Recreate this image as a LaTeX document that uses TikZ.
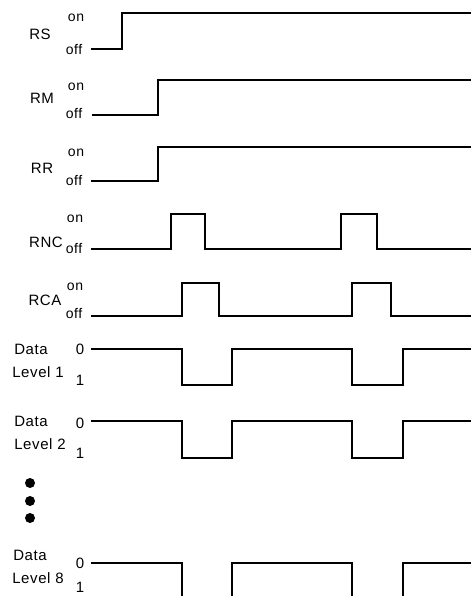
\documentclass[tikz,border=0pt]{standalone}
\usepackage{fontspec}
\setmainfont[LetterSpace=4]{Liberation Sans}

\begin{document}
\begin{tikzpicture}[x=1pt,y=1pt,yscale=-1,
  wave/.style={line width=2.9pt, line join=miter},
  signame/.style={anchor=base, inner sep=0pt, font=\fontsize{15}{17}\selectfont},
  state/.style={anchor=base, inner sep=0pt, font=\fontsize{14}{16}\selectfont}]
\useasboundingbox (0,0) rectangle (473,596);
\clip (0,0) rectangle (473,596);

%Straight Lines [RS]
\draw [wave] (91,49) -- (122,49) -- (122,13) -- (471,13) ;
%Straight Lines [RM]
\draw [wave] (92,115) -- (158,115) -- (158,80) -- (471,80) ;
%Straight Lines [RR]
\draw [wave] (91,181) -- (158,181) -- (158,147) -- (471,147) ;
%Straight Lines [RNC]
\draw [wave] (91,249) -- (171,249) -- (171,214) -- (205,214) -- (205,249) -- (341,249) -- (341,214) -- (377,214) -- (377,249) -- (471,249) ;
%Straight Lines [RCA]
\draw [wave] (91,316) -- (182,316) -- (182,283) -- (219,283) -- (219,316) -- (352,316) -- (352,283) -- (391,283) -- (391,316) -- (471,316) ;
%Straight Lines [Data Level 1]
\draw [wave] (91,349) -- (182,349) -- (182,385) -- (232,385) -- (232,349) -- (352,349) -- (352,385) -- (403,385) -- (403,349) -- (471,349) ;
%Straight Lines [Data Level 2]
\draw [wave] (91,421) -- (182,421) -- (182,458) -- (232,458) -- (232,421) -- (352,421) -- (352,458) -- (403,458) -- (403,421) -- (471,421) ;
%Straight Lines [Data Level 8]
\draw [wave] (91,563) -- (182,563) -- (182,600) -- (232,600) -- (232,563) -- (352,563) -- (352,600) -- (403,600) -- (403,563) -- (471,563) ;

%Shape: Circles [ellipsis]
\fill (30,483) circle (5) ;
\fill (30,501) circle (5) ;
\fill (30,518) circle (5) ;

% Text Node
\node [signame] (rs) at (40,40) {RS};
\node [state] (rson) at (76,22) {on};
\node [state] (rsoff) at (74,55) {off};
% Text Node
\node [signame] (rm) at (42,104) {RM};
\node [state] (rmon) at (76,91) {on};
\node [state] (rmoff) at (74,119) {off};
% Text Node
\node [signame] (rr) at (42,173) {RR};
\node [state] (rron) at (76,157) {on};
\node [state] (rroff) at (74,185) {off};
% Text Node
\node [signame] (rnc) at (46,247) {RNC};
\node [state] (rncon) at (75,222) {on};
\node [state] (rncoff) at (74,253) {off};
% Text Node
\node [signame] (rca) at (45,305) {RCA};
\node [state] (rcaon) at (75,290) {on};
\node [state] (rcaoff) at (74,318) {off};
% Text Node
\node [signame] (dataa) at (31,354) {Data};
\node [signame] (levela) at (38,377) {Level 1};
\node [signame] (zeroa) at (80,354) {0};
\node [signame] (onea) at (80,385) {1};
% Text Node
\node [signame] (datab) at (31,426) {Data};
\node [signame] (levelb) at (40,449) {Level 2};
\node [signame] (zerob) at (80,428) {0};
\node [signame] (oneb) at (80,458) {1};
% Text Node
\node [signame] (datac) at (30,560) {Data};
\node [signame] (levelc) at (38,583) {Level 8};
\node [signame] (zeroc) at (80,568) {0};
\node [signame] (onec) at (80,592) {1};

\end{tikzpicture}
\end{document}
